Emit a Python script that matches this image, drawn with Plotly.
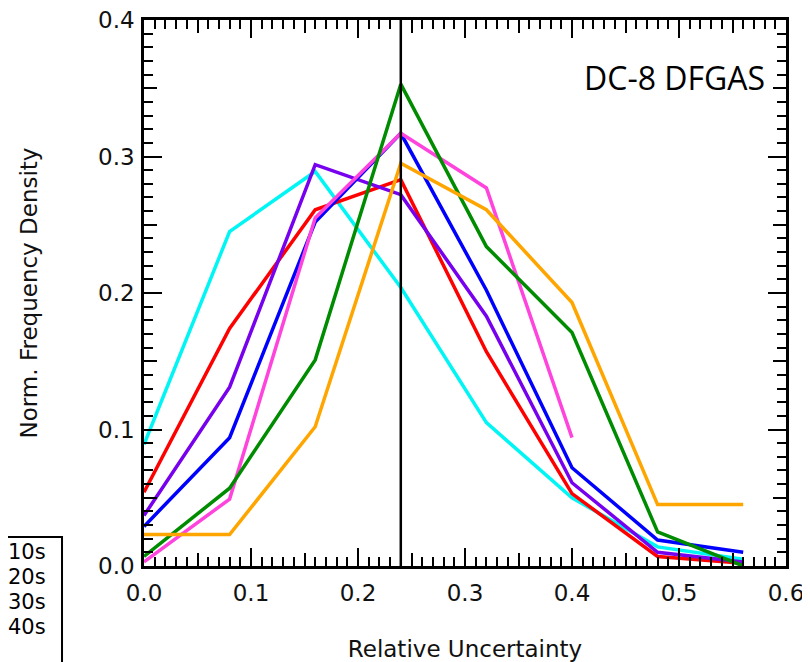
import plotly.graph_objects as go

# data
x_vals = [0.0, 0.08, 0.16, 0.24, 0.32, 0.40, 0.48, 0.56]
cyan_y = [0.089, 0.245, 0.289, 0.204, 0.105, 0.050, 0.014, 0.005]
red_y = [0.054, 0.174, 0.261, 0.283, 0.157, 0.053, 0.007, 0.002]
purple_y = [0.037, 0.131, 0.294, 0.272, 0.183, 0.061, 0.010, 0.003]
blue_y = [0.029, 0.094, 0.252, 0.317, 0.202, 0.072, 0.019, 0.010]
pink_y = [0.003, 0.049, 0.255, 0.317, 0.277, 0.094]
green_y = [0.007, 0.057, 0.151, 0.353, 0.234, 0.171, 0.025, 0.000]
orange_y = [0.023, 0.023, 0.102, 0.295, 0.261, 0.193, 0.045, 0.045]

series = [
    ("cyan", cyan_y, "#00F5F5"),
    ("red", red_y, "#FF0000"),
    ("purple", purple_y, "#7700EE"),
    ("blue", blue_y, "#0000FF"),
    ("pink", pink_y, "#FF44DD"),
    ("green", green_y, "#008C00"),
    ("orange", orange_y, "#FFA500"),
]
ref_x = 0.24
legend_labels = ["10s", "20s", "30s", "40s"]
title_text = "DC-8 DFGAS"
x_title = "Relative Uncertainty"
y_title = "Norm. Frequency Density"

FONT = "DejaVu Sans"

fig = go.Figure()
for name, ys, col in series:
    fig.add_trace(go.Scatter(x=x_vals[:len(ys)], y=ys, mode="lines", name=name,
                             line=dict(color=col, width=3.5), showlegend=False))
# invisible trace for overlay axes
fig.add_trace(go.Scatter(x=[0], y=[0], xaxis="x2", yaxis="y2", mode="markers",
                         marker=dict(opacity=0), showlegend=False, hoverinfo="skip"))

fig.add_shape(type="line", xref="x", yref="paper", x0=ref_x, x1=ref_x, y0=0, y1=1,
              line=dict(color="black", width=2.5))

common = dict(showgrid=False, zeroline=False, showline=True, linecolor="black",
              linewidth=2.5, ticks="inside", tickcolor="black", tickwidth=2, mirror="ticks",
              automargin=False)

fig.update_layout(
    width=802, height=654,
    margin=dict(l=136, r=24, t=12, b=96),
    plot_bgcolor="white", paper_bgcolor="white",
    font=dict(family=FONT, size=23, color="#111111"),
    xaxis=dict(range=[0, 0.6], dtick=0.1, tick0=0, ticklen=18, tickformat=".1f",
               ticklabelstandoff=5, ticklabeloverflow="allow",
               minor=dict(dtick=0.01, tick0=0, ticklen=9, ticks="inside", tickcolor="black", tickwidth=2),
               title=dict(text=x_title, standoff=38, font=dict(size=23)),
               **common),
    yaxis=dict(range=[0, 0.4], dtick=0.1, tick0=0, ticklen=18, tickformat=".1f",
               ticklabelstandoff=2, ticklabeloverflow="allow",
               minor=dict(dtick=0.01, tick0=0, ticklen=9, ticks="inside", tickcolor="black", tickwidth=2),
               title=dict(text=y_title, standoff=55, font=dict(size=23)),
               **common),
    xaxis2=dict(overlaying="x", range=[0, 0.6], dtick=0.05, tick0=0, ticklen=13,
                showticklabels=False, side="bottom", **common),
    yaxis2=dict(overlaying="y", range=[0, 0.4], dtick=0.05, tick0=0, ticklen=13,
                showticklabels=False, side="left", **common),
)

fig.add_annotation(text=title_text, xref="paper", yref="paper", x=0.97, y=0.895,
                   xanchor="right", yanchor="middle", showarrow=False,
                   font=dict(family="Open Sans", size=32, color="black"))

# legend box (clipped at bottom-left)
fig.add_shape(type="rect", xref="paper", yref="paper", x0=-0.3, x1=-0.1277,
              y0=-0.25, y1=0.0531, line=dict(color="black", width=2), fillcolor="white",
              layer="above")
for i, lab in enumerate(legend_labels):
    fig.add_annotation(text=lab, xref="paper", yref="paper",
                       x=-0.182, y=0.0256 - i * 0.0458, xanchor="center", yanchor="middle",
                       showarrow=False, font=dict(family=FONT, size=21, color="black"))

fig.write_html("out.html")
